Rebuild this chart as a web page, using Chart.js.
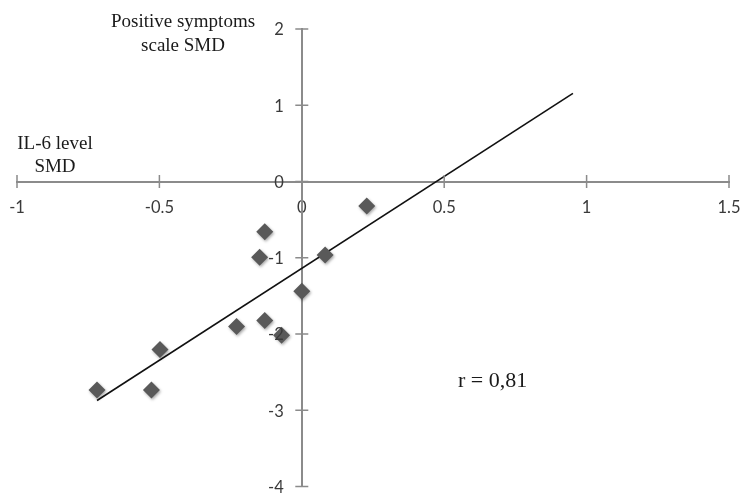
<!DOCTYPE html>
<html>
<head>
<meta charset="utf-8">
<script src="https://cdn.jsdelivr.net/npm/chart.js@4/dist/chart.umd.min.js"></script>
<style>
  html, body { margin: 0; padding: 0; background: #fff; }
</style>
</head>
<body>
<canvas id="c" width="743" height="495"></canvas>
<script>
// ── DADOS ─────────────────────────────────────────────────────────
const il6Smd = [-0.719, -0.528, -0.498, -0.229, -0.130, -0.071, 0.000, -0.148, -0.130, 0.082, 0.228];
const posSmd = [-2.734, -2.734, -2.204, -1.901, -1.823, -2.018, -1.440, -0.993, -0.659, -0.963, -0.320];
const fitX = [-0.719, 0.952];
const fitY = [-2.872, 1.155];
const xRange = [-1, 1.5];
const yRange = [-4, 2];
const xStep = 0.5;
const yStep = 1;

const axisC = '#8b8b8b';
const tickC = '#3a3a3a';
const tickFont = '16.5px Lato, sans-serif';
const serif = '"Liberation Serif", "Times New Roman", serif';

const points = il6Smd.map((x, i) => ({ x, y: posSmd[i] }));
const fitLine = fitX.map((x, i) => ({ x, y: fitY[i] }));

// ── PLUGINS ───────────────────────────────────────────────────────

// tracinhos que atravessam o eixo + rótulos do eixo y à esquerda
const crossTicks = {
  id: 'crossTicks',
  afterDraw(chart) {
    const { ctx, scales: { x, y } } = chart;
    const x0 = x.getPixelForValue(0);
    const y0 = y.getPixelForValue(0);
    ctx.save();
    ctx.strokeStyle = axisC;
    ctx.lineWidth = 1.5;
    ctx.beginPath();
    x.ticks.forEach(t => {
      const px = x.getPixelForValue(t.value);
      ctx.moveTo(px, y0 - 6.5); ctx.lineTo(px, y0 + 6.5);
    });
    y.ticks.forEach(t => {
      const py = y.getPixelForValue(t.value);
      ctx.moveTo(x0 - 6.5, py); ctx.lineTo(x0 + 6.5, py);
    });
    ctx.stroke();

    ctx.fillStyle = tickC;
    ctx.font = tickFont;
    ctx.textAlign = 'right';
    ctx.textBaseline = 'middle';
    y.ticks.forEach(t => {
      ctx.fillText(String(t.value), x0 - 18, y.getPixelForValue(t.value) + 1);
    });
    ctx.restore();
  }
};

// sombra leve nos losangos
const markerShadow = {
  id: 'markerShadow',
  beforeDatasetDraw(chart, args) {
    if (args.index !== 1) return;
    const ctx = chart.ctx;
    ctx.save();
    ctx.shadowColor = 'rgba(0,0,0,0.35)';
    ctx.shadowBlur = 3;
    ctx.shadowOffsetX = 1;
    ctx.shadowOffsetY = 1.5;
  },
  afterDatasetDraw(chart, args) {
    if (args.index !== 1) return;
    chart.ctx.restore();
  }
};

const notes = {
  id: 'notes',
  afterDraw(chart) {
    const ctx = chart.ctx;
    ctx.save();
    ctx.fillStyle = '#1a1a1a';
    ctx.textBaseline = 'alphabetic';
    ctx.font = '19px ' + serif;
    ctx.textAlign = 'center';
    ctx.fillText('Positive symptoms', 183, 27);
    ctx.fillText('scale SMD', 183, 51);
    ctx.fillText('IL-6 level', 55, 149);
    ctx.fillText('SMD', 55, 172);
    ctx.font = '22px ' + serif;
    ctx.textAlign = 'left';
    ctx.fillText('r = 0,81', 458, 387);
    ctx.restore();
  }
};

// ── GRÁFICO ───────────────────────────────────────────────────────

function noPad(scale) {
  scale.paddingTop = 0; scale.paddingBottom = 0;
  scale.paddingLeft = 0; scale.paddingRight = 0;
}

new Chart(document.getElementById('c'), {
  type: 'scatter',
  data: {
    datasets: [
      {
        data: fitLine,
        showLine: true,
        borderColor: '#111',
        borderWidth: 1.6,
        pointRadius: 0,
        pointHoverRadius: 0,
        order: 2,
      },
      {
        data: points,
        pointStyle: 'rectRot',
        pointRadius: 8.5,
        pointHoverRadius: 8.5,
        backgroundColor: '#595959',
        borderColor: '#595959',
        borderWidth: 0,
        order: 1,
      },
    ],
  },
  options: {
    responsive: false,
    animation: false,
    layout: { padding: { left: 17, right: 14, top: 29, bottom: 5 } },
    plugins: { legend: { display: false }, tooltip: { enabled: false } },
    scales: {
      x: {
        type: 'linear',
        position: { y: 0 },
        min: xRange[0], max: xRange[1],
        afterFit: noPad,
        grid: { display: false, drawTicks: false },
        border: { display: true, color: axisC, width: 2 },
        ticks: {
          stepSize: xStep,
          padding: 16,
          color: tickC,
          font: { family: 'Lato', size: 16.5 },
          callback: v => String(v),
        },
      },
      y: {
        type: 'linear',
        position: { x: 0 },
        min: yRange[0], max: yRange[1],
        afterFit: noPad,
        grid: { display: false, drawTicks: false },
        border: { display: true, color: axisC, width: 2 },
        ticks: { stepSize: yStep, display: false },
      },
    },
  },
  plugins: [crossTicks, markerShadow, notes],
});
</script>
</body>
</html>
